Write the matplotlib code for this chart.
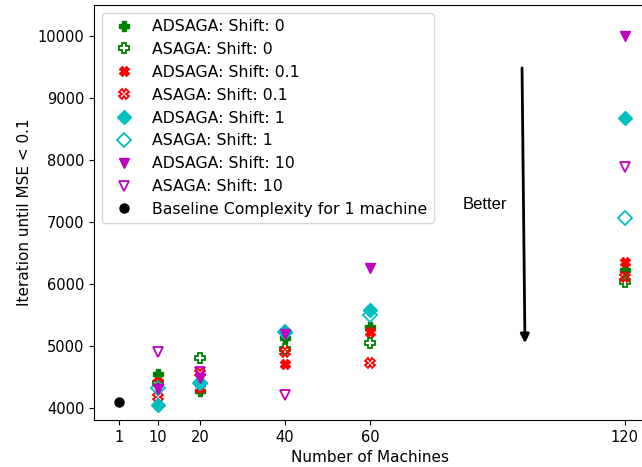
import numpy as np
import matplotlib
matplotlib.use("Agg")
import matplotlib.pyplot as plt

machines = [10, 20, 40, 60, 120]
adsaga_s0 = [4555, 4280, 5130, 5300, 6225]
asaga_s0 = [4400, 4810, 4950, 5045, 6025]
adsaga_s01 = [4420, 4330, 4710, 5230, 6350]
asaga_s01 = [4175, 4570, 4900, 4730, 6115]
adsaga_s1 = [4050, 4400, 5230, 5580, 8680]
asaga_s1 = [4330, 4400, 5230, 5500, 7065]
adsaga_s10 = [4300, 4480, 5200, 6250, 10000]
asaga_s10 = [4910, 4585, 4215, np.nan, 7890]
baseline_x = [1]
baseline_y = [4100]

xticks = [1, 10, 20, 40, 60, 120]
yticks = [4000, 5000, 6000, 7000, 8000, 9000, 10000]

fig = plt.figure(figsize=(6.42, 4.67), dpi=100)
ax = fig.add_axes([94/642, 47/467, 552/642, 415/467])

series = [
    (adsaga_s0, 'P', 'g', True, 6.5, "ADSAGA: Shift: 0"),
    (asaga_s0, 'P', 'g', False, 6.5, "ASAGA: Shift: 0"),
    (adsaga_s01, 'X', 'r', True, 6.5, "ADSAGA: Shift: 0.1"),
    (asaga_s01, 'X', 'r', False, 6.5, "ASAGA: Shift: 0.1"),
    (adsaga_s1, 'D', 'c', True, 7, "ADSAGA: Shift: 1"),
    (asaga_s1, 'D', 'c', False, 7, "ASAGA: Shift: 1"),
    (adsaga_s10, 'v', 'm', True, 7.3, "ADSAGA: Shift: 10"),
    (asaga_s10, 'v', 'm', False, 7.3, "ASAGA: Shift: 10"),
]
for vals, mk, col, filled, ms, lab in series:
    if filled:
        ax.plot(machines, vals, linestyle='none', marker=mk, color=col,
                markersize=ms, label=lab)
    else:
        ax.plot(machines, vals, linestyle='none', marker=mk, color=col,
                markerfacecolor='none', markersize=ms, markeredgewidth=1.3,
                label=lab)
ax.plot(baseline_x, baseline_y, linestyle='none', marker='o', color='k',
        markersize=6.5, label="Baseline Complexity for 1 machine")

ax.set_xlim(-5, 125)
ax.set_ylim(3806, 10500)
ax.set_xticks(xticks)
ax.set_xticklabels([str(t) for t in xticks])
ax.set_yticks(yticks)
ax.tick_params(labelsize=10.5)
ax.set_xlabel("Number of Machines", fontsize=11)
ax.set_ylabel("Iteration until MSE < 0.1", fontsize=11)

ax.legend(loc='upper left', fontsize=11.3)

ax.annotate("", xy=(96.5, 5000), xytext=(95.8, 9530),
            arrowprops=dict(arrowstyle='-|>', color='k', lw=2,
                            mutation_scale=13))
ax.text(87.1, 7274, "Better", family="Liberation Sans", fontsize=12,
        ha='center', va='center')

fig.savefig("out.png", dpi=100)
